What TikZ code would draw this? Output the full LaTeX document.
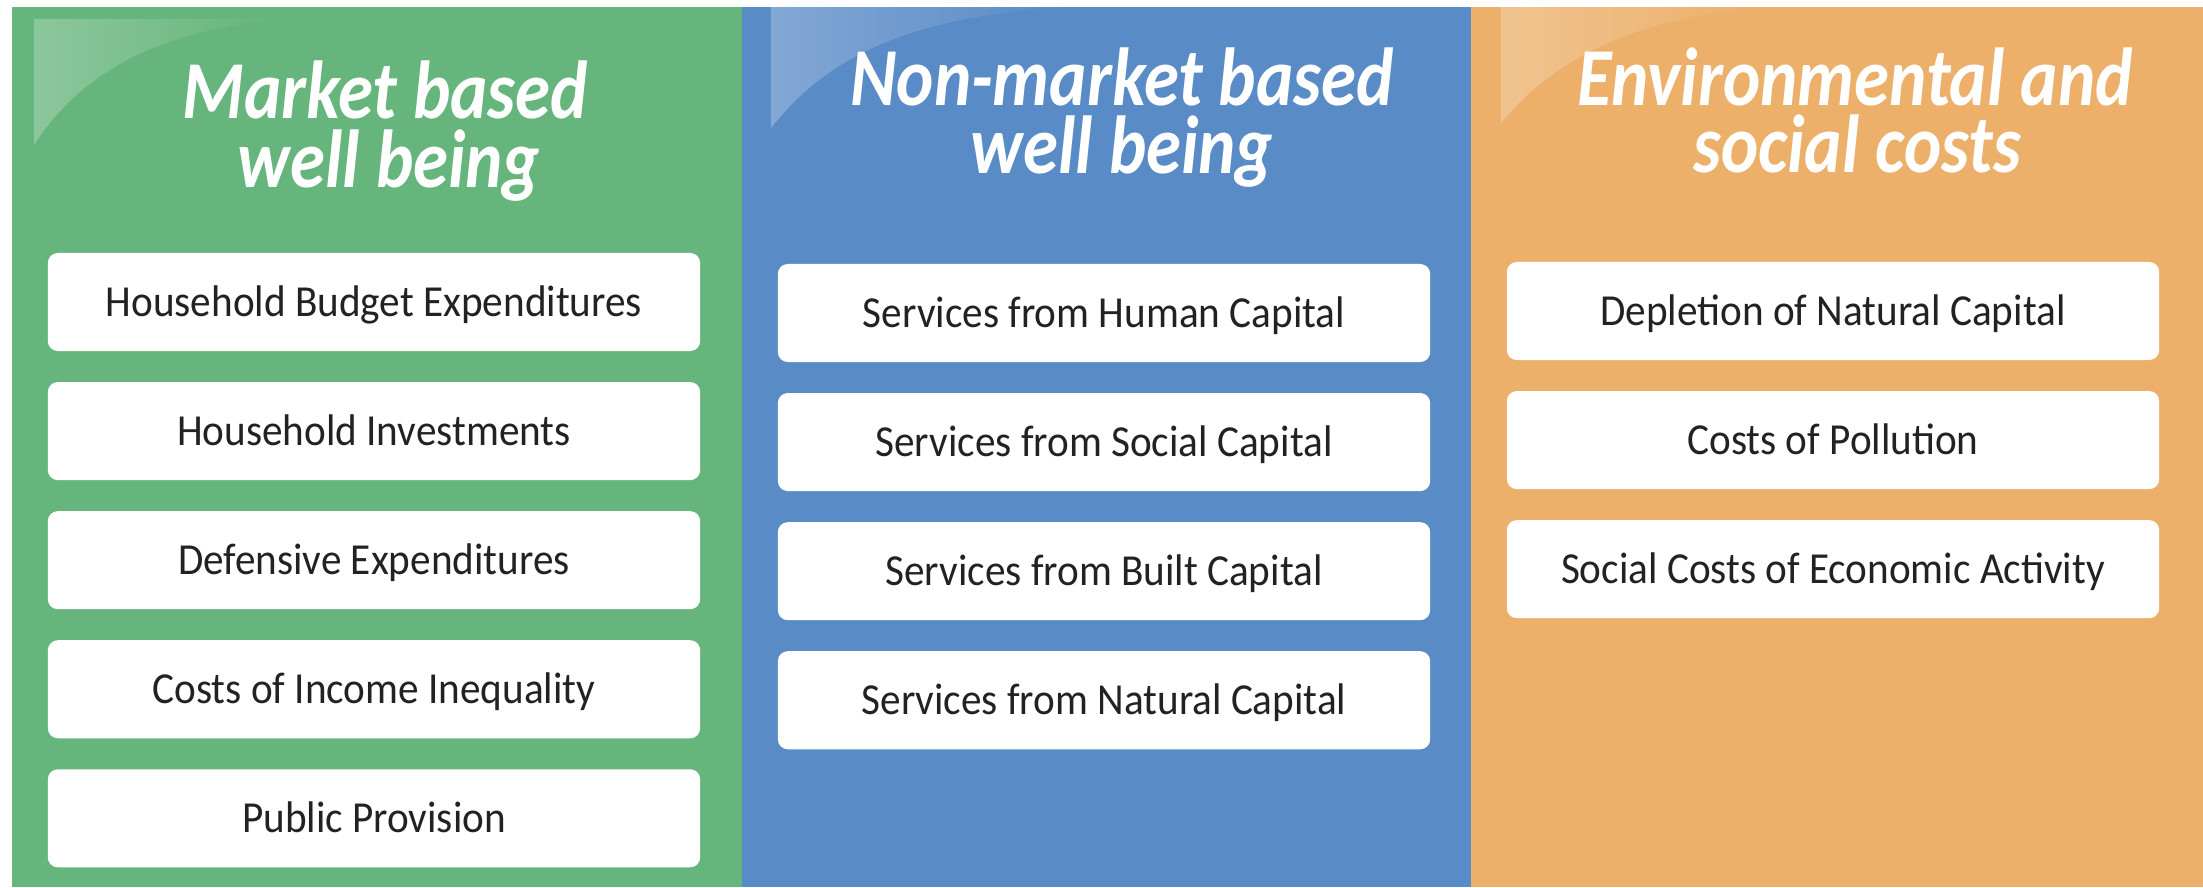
\documentclass[tikz,border=0pt]{standalone}
\usepackage{fontspec}
\setmainfont[FakeStretch=0.93]{Carlito}
\newfontfamily\headfont[FakeStretch=0.86]{Carlito}
\usetikzlibrary{positioning,fadings}
\definecolor{mktgreen}{RGB}{102,181,124}
\definecolor{nonmktblue}{RGB}{89,139,199}
\definecolor{costorange}{RGB}{236,176,106}
\definecolor{itemtext}{RGB}{34,34,34}

\begin{document}
\begin{tikzpicture}[x=0.01cm, y=-0.01cm, node distance=0.31cm,
  item/.style={fill=white, rounded corners=0.1cm, minimum width=6.52cm, minimum height=0.98cm,
    inner sep=0pt, outer sep=0pt, text height=0.28cm, text depth=0pt,
    font=\fontsize{12.6}{14}\selectfont, text=itemtext},
  head/.style={anchor=base, text=white, inner sep=0pt,
    font=\headfont\bfseries\itshape\fontsize{23.4}{26}\selectfont},
  gloss/.style={fill=white, fill opacity=0.25, path fading=east}]
%\draw[help lines,step=100] (0,0) grid (2203,887);
\useasboundingbox (0,0) rectangle (2203,887);

\begin{scope}[shift={(12,0)}]
\fill [mktgreen] (0,7) rectangle (730,887);
\fill [gloss] (22,19) -- (22,145) .. controls (70,70) and (150,30) .. (270,19) -- cycle;
\node [head] (mkt-head1) at (373,118) {Market based};
\node [head] (mkt-head2) at (377,187) {well being};
\node [item] (mkt1) at (362,302) {Household Budget Expenditures};
\node [item, below=of mkt1] (mkt2) {Household Investments};
\node [item, below=of mkt2] (mkt3) {Defensive Expenditures};
\node [item, below=of mkt3] (mkt4) {Costs of Income Inequality};
\node [item, below=of mkt4] (mkt5) {Public Provision};
\end{scope}

\begin{scope}[shift={(742,0)}]
\fill [nonmktblue] (0,7) rectangle (729,887);
\fill [gloss] (29,7) -- (29,128) .. controls (90,50) and (180,15) .. (330,7) -- cycle;
\node [head] (nonmkt-head1) at (380,105) {Non-market based};
\node [head] (nonmkt-head2) at (380,173) {well being};
\node [item] (nonmkt1) at (362,313) {Services from Human Capital};
\node [item, below=of nonmkt1] (nonmkt2) {Services from Social Capital};
\node [item, below=of nonmkt2] (nonmkt3) {Services from Built Capital};
\node [item, below=of nonmkt3] (nonmkt4) {Services from Natural Capital};
\end{scope}

\begin{scope}[shift={(1471,0)}]
\fill [costorange] (0,7) rectangle (732,887);
\fill [gloss] (30,7) -- (30,123) .. controls (90,50) and (180,15) .. (300,7) -- cycle;
\node [head] (cost-head1) at (384,105) {Environmental and};
\node [head] (cost-head2) at (386,172) {social costs};
\node [item] (cost1) at (362,311) {Depletion of Natural Capital};
\node [item, below=of cost1] (cost2) {Costs of Pollution};
\node [item, below=of cost2] (cost3) {Social Costs of Economic Activity};
\end{scope}
\end{tikzpicture}
\end{document}
